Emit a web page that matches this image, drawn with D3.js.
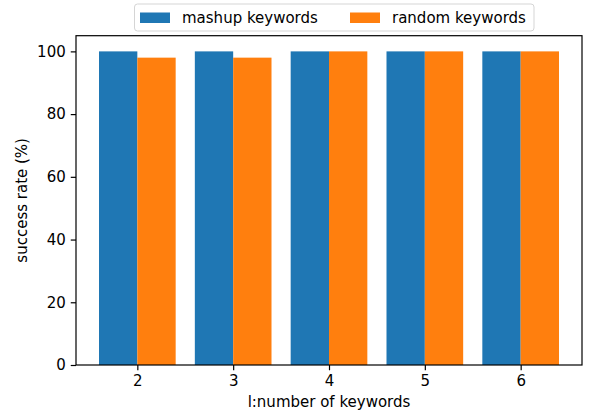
<!DOCTYPE html>
<html>
<head>
<meta charset="utf-8">
<script src="https://cdn.jsdelivr.net/npm/d3@7"></script>
<style>
  body { margin: 0; background: #fff; }
  svg text { font-family: "DejaVu Sans", sans-serif; fill: #000; }
</style>
</head>
<body>
<div id="viz"></div>
<script>
// chart data
var keywordCounts = [2, 3, 4, 5, 6]
var mashupRates = [100, 100, 100, 100, 100]
var randomRates = [98, 98, 100, 100, 100]
var yTicks = [0, 20, 40, 60, 80, 100]
var seriesNames = ["mashup keywords", "random keywords"]
var seriesColors = ["#1f77b4", "#ff7f0e"]

var width = 591, height = 416
var margin = {top: 35.7, right: 9, bottom: 51, left: 76}
var fontSize = 15
var barWidth = 0.4

var svg = d3.select("#viz")
            .append("svg")
              .attr("width", width)
              .attr("height", height)

// scales (matplotlib style: 5% padding on x, 0..105 on y)
var xScale = d3.scaleLinear()
                .domain([1.36, 6.64])
                .range([margin.left, width - margin.right])
var yScale = d3.scaleLinear()
                .domain([0, 105])
                .range([height - margin.bottom, margin.top])

var series = [mashupRates, randomRates]

// bars
series.forEach(function(values, s) {
  svg.append("g")
    .selectAll("rect")
    .data(values)
    .enter()
    .append("rect")
    .attr("x", function(d, i) { return xScale(keywordCounts[i] + (s - 1) * barWidth) })
    .attr("width", function() { return xScale(barWidth) - xScale(0) })
    .attr("y", function(d) { return yScale(d) })
    .attr("height", function(d) { return yScale(0) - yScale(d) })
    .attr("fill", seriesColors[s])
})

// x axis
svg.append("g")
  .attr("transform", "translate(0," + yScale(0) + ")")
  .call(d3.axisBottom(xScale).tickValues(keywordCounts).tickFormat(d3.format("d")).tickSize(5.25).tickPadding(5))
// y axis
svg.append("g")
  .attr("transform", "translate(" + margin.left + ",0)")
  .call(d3.axisLeft(yScale).tickValues(yTicks).tickFormat(d3.format("d")).tickSize(5.25).tickPadding(5))

svg.selectAll(".tick text").attr("font-size", fontSize).attr("font-family", "DejaVu Sans")
svg.selectAll(".tick line").attr("stroke", "#000").attr("stroke-width", 1.2)
svg.selectAll(".domain").remove()

// box around plot area
svg.append("rect")
  .attr("x", xScale.range()[0])
  .attr("y", yScale.range()[1])
  .attr("width", xScale.range()[1] - xScale.range()[0])
  .attr("height", yScale.range()[0] - yScale.range()[1])
  .attr("fill", "none")
  .attr("stroke", "#000")
  .attr("stroke-width", 1.2)

// axis titles
svg.append("text")
  .attr("x", (xScale.range()[0] + xScale.range()[1]) / 2)
  .attr("y", 407)
  .attr("text-anchor", "middle")
  .attr("font-size", fontSize)
  .text("l:number of keywords")

svg.append("text")
  .attr("transform", "translate(27," + (yScale.range()[0] + yScale.range()[1]) / 2 + ") rotate(-90)")
  .attr("text-anchor", "middle")
  .attr("font-size", fontSize)
  .text("success rate (%)")

// legend
var legend = svg.append("g")
legend.append("rect")
  .attr("x", 134.5)
  .attr("y", 4)
  .attr("width", 399.5)
  .attr("height", 27)
  .attr("rx", 3)
  .attr("fill", "#fff")
  .attr("fill-opacity", 0.8)
  .attr("stroke", "#d5d5d5")

var legendX = [140, 350]
seriesNames.forEach(function(name, s) {
  legend.append("rect")
    .attr("x", legendX[s])
    .attr("y", 12.5)
    .attr("width", 30)
    .attr("height", 10.5)
    .attr("fill", seriesColors[s])
  legend.append("text")
    .attr("x", legendX[s] + 42)
    .attr("y", 23)
    .attr("font-size", fontSize)
    .text(name)
})
</script>
</body>
</html>
